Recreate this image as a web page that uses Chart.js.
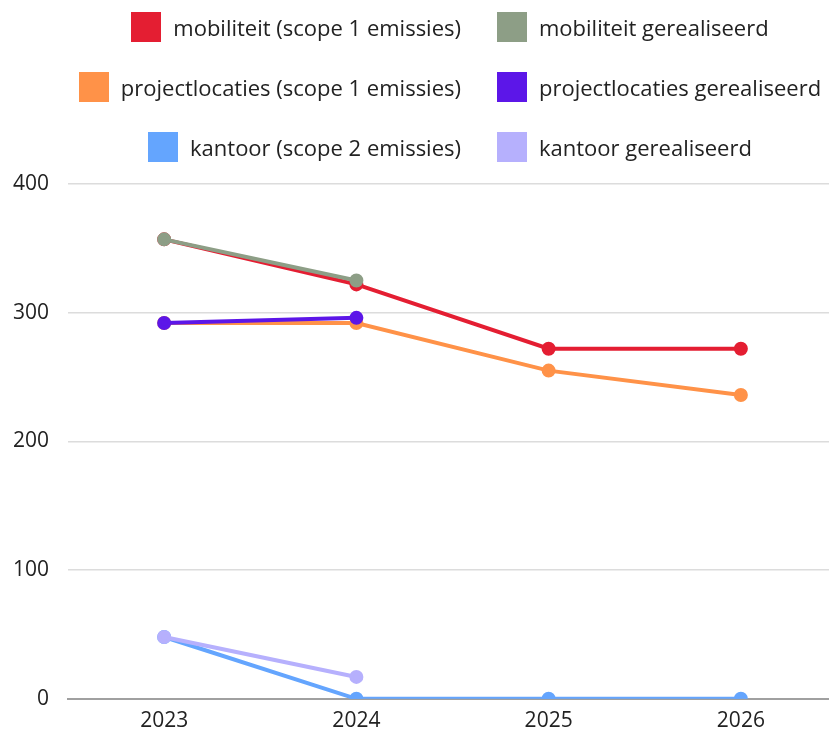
<!DOCTYPE html>
<html>
<head>
<meta charset="utf-8">
<script src="https://cdn.jsdelivr.net/npm/chart.js@4.4.1/dist/chart.umd.min.js"></script>
<style>
  body { margin: 0; background: #fff; }
  #wrap { position: relative; width: 829px; height: 733px; overflow: hidden; }
  #legend {
    position: absolute; left: 0; top: 0; width: 829px;
    display: grid; grid-template-columns: 461px 368px; row-gap: 30px;
    padding-top: 12px;
    font-family: "Open Sans", sans-serif; font-size: 22px; color: #222;
  }
  .item { display: flex; align-items: center; height: 30px; white-space: nowrap; }
  .item.left { justify-content: flex-end; }
  .item.right { padding-left: 36px; }
  .box { width: 30px; height: 30px; margin-right: 12px; flex: none; }
</style>
</head>
<body>
<div id="wrap">
  <canvas id="chart" width="846" height="733"></canvas>
  <div id="legend"></div>
</div>
<script>
// years on the x axis
const years = ['2023', '2024', '2025', '2026'];

// targets (scope 1 / scope 2)
const mobiliteit = [357, 322, 272, 272];
const projectlocaties = [292, 292, 255, 236];
const kantoor = [48, 0, 0, 0];

// realised values (only first two years)
const mobiliteitReal = [357, 325, null, null];
const projectlocatiesReal = [292, 296, null, null];
const kantoorReal = [48, 17, null, null];

const labels = [
  'mobiliteit (scope 1 emissies)', 'mobiliteit gerealiseerd',
  'projectlocaties (scope 1 emissies)', 'projectlocaties gerealiseerd',
  'kantoor (scope 2 emissies)', 'kantoor gerealiseerd'
];
const colors = ['#e41e32', '#8d9e86', '#ff9248', '#5c16e8', '#64a5fe', '#b6b0fd'];
const series = [mobiliteit, mobiliteitReal, projectlocaties, projectlocatiesReal, kantoor, kantoorReal];

// draw order: realised lines on top of their target line
const datasets = series.map(function(d, i) {
  return {
    label: labels[i],
    data: d,
    borderColor: colors[i],
    backgroundColor: colors[i],
    borderWidth: 4,
    pointRadius: 5,
    pointHoverRadius: 5,
    tension: 0,
    order: (i % 2 === 0) ? 1 : 0
  };
});

// html legend, two columns like the original
const legendEl = document.getElementById('legend');
labels.forEach(function(l, i) {
  const div = document.createElement('div');
  div.className = 'item ' + (i % 2 === 0 ? 'left' : 'right');
  div.innerHTML = '<span class="box" style="background:' + colors[i] + '"></span><span>' + l + '</span>';
  legendEl.appendChild(div);
});

const ctx = document.querySelector('#chart');
new Chart(ctx, {
  type: 'line',
  data: { labels: years, datasets: datasets },
  options: {
    responsive: false,
    animation: false,
    layout: { padding: { top: 184, left: -6, right: 0, bottom: -11 } },
    plugins: { legend: { display: false }, tooltip: { enabled: false } },
    scales: {
      x: {
        offset: true,
        grid: { display: false, drawTicks: false },
        border: { color: '#a0a0a0', width: 2 },
        ticks: { color: '#222', font: { family: 'Open Sans', size: 21 }, padding: 10 }
      },
      y: {
        min: 0, max: 400,
        ticks: { stepSize: 100, color: '#222', font: { family: 'Open Sans', size: 21 }, padding: 19 },
        grid: { color: '#dcdcdc', lineWidth: 1.5, drawTicks: false },
        border: { display: false }
      }
    }
  }
});
</script>
</body>
</html>
